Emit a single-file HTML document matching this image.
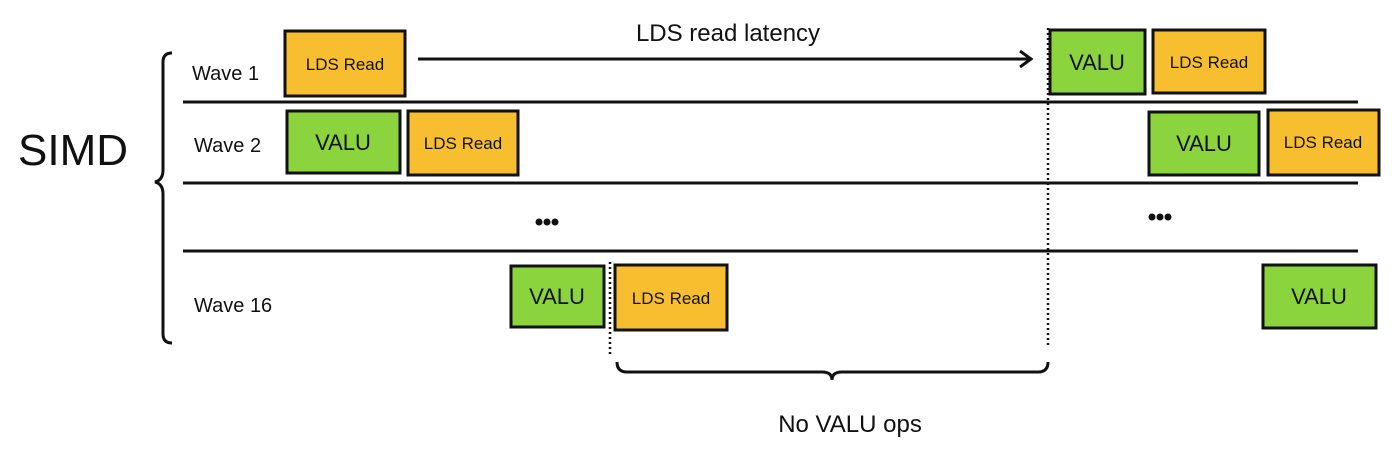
<!DOCTYPE html>
<html><head><meta charset="utf-8"><style>
body{margin:0;background:#fff;}
svg text{font-family:"Liberation Sans",sans-serif;fill:#111;}
</style></head><body>
<svg width="1392" height="454" viewBox="0 0 1392 454" xmlns="http://www.w3.org/2000/svg">
<rect width="1392" height="454" fill="#fff"/>
<g stroke="#111" stroke-width="3" fill="none">
<line x1="183" y1="102" x2="1358" y2="102"/>
<line x1="183" y1="183" x2="1358" y2="183"/>
<line x1="183" y1="251" x2="1358" y2="251"/>
<path d="M172 53 Q163 53 163 62 L163 170 Q163 180 155 182 Q163 184 163 194 L163 334 Q163 343 172 343"/>
<line x1="418" y1="59" x2="1030" y2="59"/>
<path d="M1020 51 L1031 59 L1020 67"/>
<path d="M617 362 Q617 372 627 372 L822 372 Q832 372 832 380 Q832 372 842 372 L1038 372 Q1048 372 1048 362"/>
</g>
<g stroke="#111" stroke-width="2.5" stroke-dasharray="2 3">
<line x1="1048" y1="28" x2="1048" y2="345"/>
<line x1="610" y1="262" x2="610" y2="356"/>
</g>
<g stroke="#111" stroke-width="3">
<rect x="285" y="31" width="120" height="65" fill="#f7bf2f"/>
<rect x="1050" y="30" width="95" height="64" fill="#8cd43e"/>
<rect x="1153" y="30" width="112" height="63" fill="#f7bf2f"/>
<rect x="287" y="111" width="113" height="62" fill="#8cd43e"/>
<rect x="408" y="111" width="110" height="64" fill="#f7bf2f"/>
<rect x="1149" y="112" width="110" height="63" fill="#8cd43e"/>
<rect x="1268" y="110" width="111" height="65" fill="#f7bf2f"/>
<rect x="511" y="266" width="93" height="61" fill="#8cd43e"/>
<rect x="615" y="265" width="112" height="65" fill="#f7bf2f"/>
<rect x="1263" y="265" width="113" height="63" fill="#8cd43e"/>
</g>
<g font-size="17" text-anchor="middle">
<text x="345" y="70">LDS Read</text>
<text x="1209" y="68">LDS Read</text>
<text x="463" y="149">LDS Read</text>
<text x="1323" y="148">LDS Read</text>
<text x="671" y="304">LDS Read</text>
</g>
<g font-size="22" text-anchor="middle">
<text x="1097" y="70">VALU</text>
<text x="343" y="150">VALU</text>
<text x="1204" y="151">VALU</text>
<text x="557" y="304">VALU</text>
<text x="1319" y="304">VALU</text>
</g>
<g font-size="20">
<text x="192" y="80">Wave 1</text>
<text x="194" y="152">Wave 2</text>
<text x="194" y="312">Wave 16</text>
</g>
<text x="18" y="165" font-size="44">SIMD</text>
<text x="728" y="41" font-size="24" text-anchor="middle">LDS read latency</text>
<text x="850" y="432" font-size="24" text-anchor="middle">No VALU ops</text>
<g fill="#111">
<circle cx="539" cy="222" r="3.5"/><circle cx="547" cy="222" r="3.5"/><circle cx="555" cy="222" r="3.5"/>
<circle cx="1152" cy="217" r="3.5"/><circle cx="1160" cy="217" r="3.5"/><circle cx="1168" cy="217" r="3.5"/>
</g>
</svg>
</body></html>
